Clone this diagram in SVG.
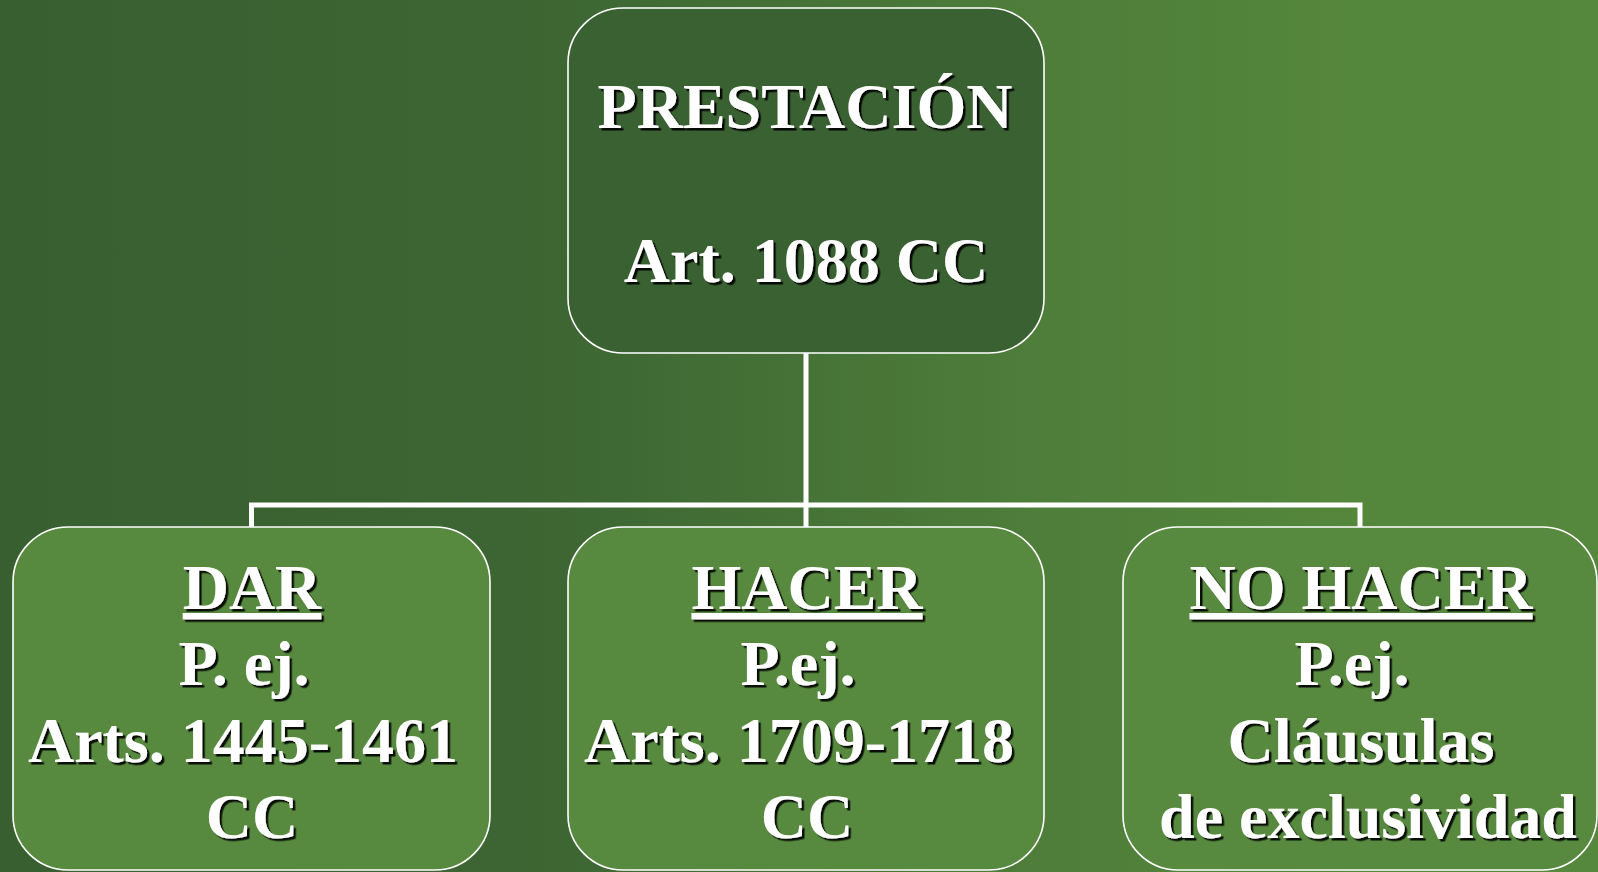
<svg xmlns="http://www.w3.org/2000/svg" width="1598" height="872" viewBox="0 0 1598 872">
  <defs>
    <linearGradient id="bg" x1="0" y1="0" x2="1" y2="0">
      <stop offset="0" stop-color="#385f30"/>
      <stop offset="0.35" stop-color="#3d6633"/>
      <stop offset="0.65" stop-color="#4e7e3a"/>
      <stop offset="0.85" stop-color="#54863b"/>
      <stop offset="1" stop-color="#55873c"/>
    </linearGradient>
    <filter id="shadow" x="-10%" y="-10%" width="120%" height="130%">
      <feDropShadow dx="2.5" dy="2.5" stdDeviation="0.4" flood-color="#000000" flood-opacity="0.9"/>
    </filter>
  </defs>
  <style>
    .top { fill: #3a6132; stroke: #ffffff; stroke-width: 1.6; }
    .box { fill: #578a3f; stroke: #ffffff; stroke-width: 1.6; }
    .conn { fill: none; stroke: #ffffff; stroke-width: 5; }
    text { font-family: "Liberation Serif", "Times New Roman", serif; font-weight: bold; font-size: 64px; fill: #ffffff; text-anchor: middle; }
    .u { text-decoration: underline; }
    .t { filter: url(#shadow); }
  </style>
  <rect x="0" y="0" width="1598" height="872" fill="url(#bg)"/>
  <g id="connectors">
    <path class="conn" d="M806 353 V505"/>
    <path class="conn" d="M251.5 528 V505 H1360 V528"/>
    <path class="conn" d="M806 505 V528"/>
  </g>
  <g id="node-prestacion">
    <rect class="top" x="568" y="8" width="476" height="345" rx="55" ry="55"/>
    <g class="t">
      <text x="805" y="128">PRESTACIÓN</text>
      <text x="806" y="282">Art. 1088 CC</text>
    </g>
  </g>
  <g id="node-dar">
    <rect class="box" x="13" y="527" width="477" height="343" rx="55" ry="55"/>
    <g class="t">
      <text class="u" x="252" y="609">DAR</text>
      <text x="244" y="685">P. ej.</text>
      <text x="243" y="762">Arts. 1445-1461</text>
      <text x="252" y="838">CC</text>
    </g>
  </g>
  <g id="node-hacer">
    <rect class="box" x="568" y="527" width="476" height="343" rx="55" ry="55"/>
    <g class="t">
      <text class="u" x="807" y="609">HACER</text>
      <text x="798" y="685">P.ej.</text>
      <text x="799" y="762">Arts. 1709-1718</text>
      <text x="807" y="838">CC</text>
    </g>
  </g>
  <g id="node-no-hacer">
    <rect class="box" x="1123" y="527" width="474" height="343" rx="55" ry="55"/>
    <g class="t">
      <text class="u" x="1361" y="609">NO HACER</text>
      <text x="1352" y="685">P.ej.</text>
      <text x="1361" y="762">Cláusulas</text>
      <text x="1368" y="838">de exclusividad</text>
    </g>
  </g>
</svg>
